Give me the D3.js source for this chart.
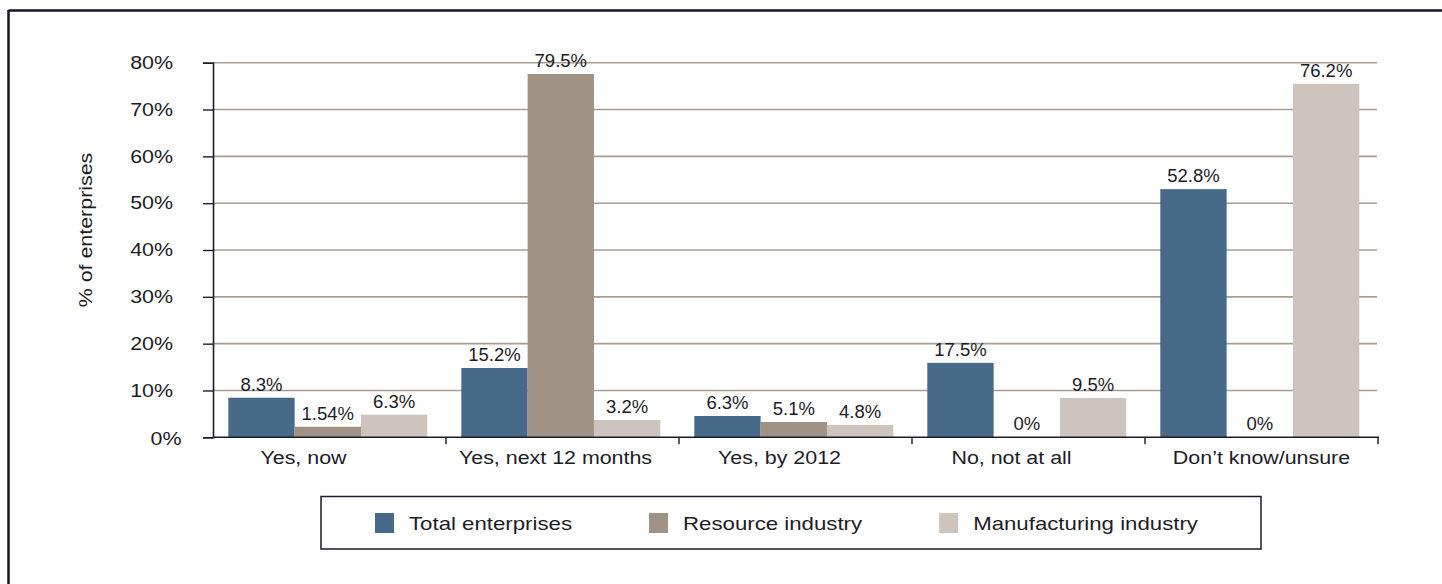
<!DOCTYPE html>
<html>
<head>
<meta charset="utf-8">
<script src="https://cdn.jsdelivr.net/npm/d3@7"></script>
<style>
  html, body { margin: 0; padding: 0; background: #ffffff; }
  svg { display: block; }
  text { font-family: "Liberation Sans", Arial, Helvetica, sans-serif; fill: #1c1c26; }
</style>
</head>
<body>
<svg id="chart" width="1442" height="584"></svg>
<script>
// ---- data ----
const categories = ["Yes, now", "Yes, next 12 months", "Yes, by 2012", "No, not at all", "Don\u2019t know/unsure"];
const seriesNames = ["Total enterprises", "Resource industry", "Manufacturing industry"];
// bar heights as drawn (percent)
const totalValues         = [8.45, 14.8, 4.55, 15.9, 53.0];
const resourceValues      = [2.26, 77.6, 3.27, 0, 0];
const manufacturingValues = [4.83, 3.7, 2.63, 8.4, 75.5];
// value labels as printed
const totalLabels         = ["8.3%", "15.2%", "6.3%", "17.5%", "52.8%"];
const resourceLabels      = ["1.54%", "79.5%", "5.1%", "0%", "0%"];
const manufacturingLabels = ["6.3%", "3.2%", "4.8%", "9.5%", "76.2%"];
const yTicks = [0, 10, 20, 30, 40, 50, 60, 70, 80];

// ---- layout / style ----
const colors = ["#486a89", "#a09385", "#cdc4bd"];
const catLabelNudge = [-26, -7, -16, -17, 0];
const SX = 1.19;          // horizontal stretch of axis type
const LSX = 1.235;        // horizontal stretch of legend type
const svg = d3.select("#chart");

const plot = { left: 213, right: 1378, top: 62.7, bottom: 437.3 };

const x0 = d3.scaleBand().domain(categories).range([plot.left, plot.right]).padding(0);
const x1 = d3.scaleBand().domain(seriesNames).range([15.3, 214.3]).padding(0);
const y = d3.scaleLinear().domain([0, 80]).range([plot.bottom, plot.top]);

const seriesValues = [totalValues, resourceValues, manufacturingValues];
const seriesLabels = [totalLabels, resourceLabels, manufacturingLabels];

// stretched text helper
function stretchedText(parent, x, y, str, anchor, size, sx) {
  return parent.append("text")
    .attr("transform", `translate(${x},${y}) scale(${sx},1)`)
    .attr("text-anchor", anchor)
    .attr("font-size", size)
    .text(str);
}

// outer frame (top and left edge)
svg.append("line").attr("x1", 8.5).attr("x2", 1442).attr("y1", 10.5).attr("y2", 10.5)
  .attr("stroke", "#15152a").attr("stroke-width", 2.5);
svg.append("line").attr("x1", 8.5).attr("x2", 8.5).attr("y1", 10).attr("y2", 584)
  .attr("stroke", "#15152a").attr("stroke-width", 2.5);

// gridlines
svg.append("g").selectAll("line")
  .data(yTicks.filter(d => d > 0))
  .join("line")
  .attr("x1", plot.left).attr("x2", 1377)
  .attr("y1", d => y(d)).attr("y2", d => y(d))
  .attr("stroke", "#a89d92").attr("stroke-width", 1.6);

// bars
const groups = svg.append("g").selectAll("g")
  .data(categories)
  .join("g")
  .attr("transform", d => `translate(${x0(d)},0)`);

seriesNames.forEach((s, si) => {
  groups.append("rect")
    .attr("x", x1(s))
    .attr("width", x1.bandwidth())
    .attr("y", (d, ci) => y(seriesValues[si][ci]))
    .attr("height", (d, ci) => y(0) - y(seriesValues[si][ci]))
    .attr("fill", colors[si]);
  groups.append("text")
    .attr("x", x1(s) + x1.bandwidth() / 2)
    .attr("y", (d, ci) => y(seriesValues[si][ci]) - 7)
    .attr("text-anchor", "middle")
    .attr("font-size", 18.5)
    .text((d, ci) => seriesLabels[si][ci]);
});

// y axis
const yAxis = d3.axisLeft(y).tickValues(yTicks).tickSize(10).tickPadding(30)
  .tickFormat(d => d + "%");
const yg = svg.append("g").attr("transform", `translate(${plot.left},0)`).call(yAxis);
yg.select(".domain").attr("stroke", "#1b1b2b").attr("stroke-width", 1.6);
yg.selectAll(".tick line").attr("stroke", "#1b1b2b").attr("stroke-width", 1.4);
yg.selectAll(".tick text")
  .attr("font-family", "'Liberation Sans', Arial, sans-serif")
  .attr("font-size", 18).attr("fill", "#1c1c26")
  .attr("x", null)
  .attr("transform", d => `translate(${d === 0 ? -31.5 : -40},0) scale(${SX},1)`)
  .attr("dy", d => d === 0 ? "0.38em" : "0.32em");

// x axis
const xAxisLine = svg.append("g");
xAxisLine.append("line").attr("x1", plot.left).attr("x2", plot.right + 1)
  .attr("y1", plot.bottom).attr("y2", plot.bottom)
  .attr("stroke", "#1b1b2b").attr("stroke-width", 1.6);
xAxisLine.selectAll("line.tk")
  .data(categories.slice(1).concat(["__end"]))
  .join("line").attr("class", "tk")
  .attr("x1", d => d === "__end" ? plot.right : x0(d))
  .attr("x2", d => d === "__end" ? plot.right : x0(d))
  .attr("y1", plot.bottom).attr("y2", plot.bottom + 7)
  .attr("stroke", "#1b1b2b").attr("stroke-width", 1.4);
const xl = svg.append("g");
categories.forEach((c, i) => {
  stretchedText(xl, x0(c) + x0.bandwidth() / 2 + catLabelNudge[i], 464, c, "middle", 18, SX);
});

// y axis title
svg.append("text")
  .attr("transform", `translate(92,230) rotate(-90) scale(${SX},1)`)
  .attr("text-anchor", "middle")
  .attr("font-size", 18)
  .text("% of enterprises");

// legend
const legend = svg.append("g");
legend.append("rect").attr("x", 321).attr("y", 496.5).attr("width", 940).attr("height", 52.5)
  .attr("fill", "none").attr("stroke", "#1b1b2b").attr("stroke-width", 1.5);
let lx = 375;
seriesNames.forEach((s, i) => {
  legend.append("rect").attr("x", lx).attr("y", 513).attr("width", 19).attr("height", 20)
    .attr("fill", colors[i]);
  const t = stretchedText(legend, lx + 34, 530, s, "start", 18, LSX);
  lx = lx + 34 + t.node().getComputedTextLength() * LSX + 77;
});
</script>
</body>
</html>
